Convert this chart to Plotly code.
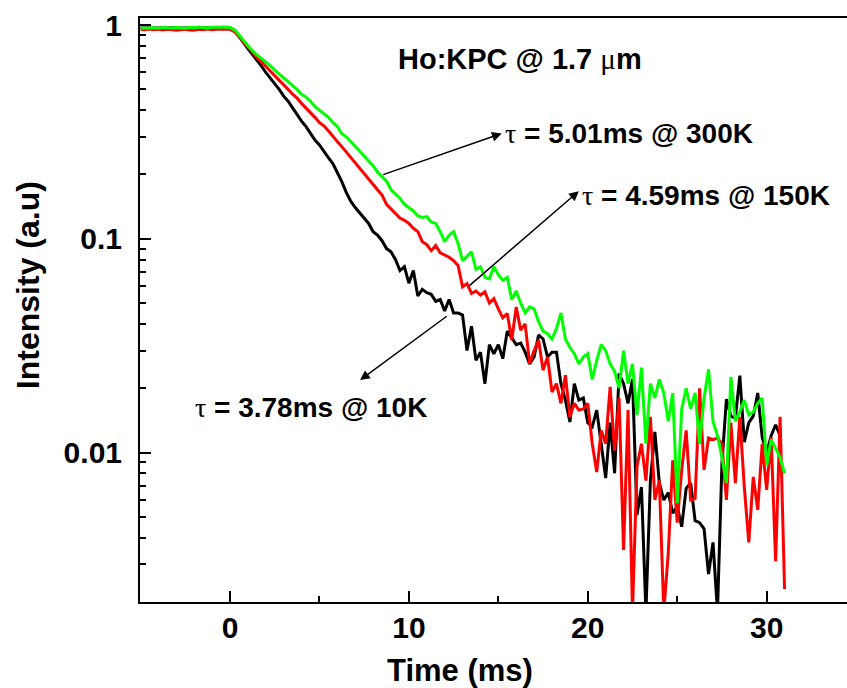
import plotly.graph_objects as go

# ---------------- data ----------------
TIME_MS = [
    -5.0, -4.75, -4.5, -4.25, -4.0, -3.75, -3.5, -3.25, -3.0, -2.75,
    -2.5, -2.25, -2.0, -1.75, -1.5, -1.25, -1.0, -0.75, -0.5, -0.25,
    0.0, 0.25, 0.5, 0.75, 1.0, 1.25, 1.5, 1.75, 2.0, 2.25,
    2.5, 2.75, 3.0, 3.25, 3.5, 3.75, 4.0, 4.25, 4.5, 4.75,
    5.0, 5.25, 5.5, 5.75, 6.0, 6.25, 6.5, 6.75, 7.0, 7.25,
    7.5, 7.75, 8.0, 8.25, 8.5, 8.75, 9.0, 9.25, 9.5, 9.75,
    10.0, 10.25, 10.5, 10.75, 11.0, 11.25, 11.5, 11.75, 12.0, 12.25,
    12.5, 12.75, 13.0, 13.25, 13.5, 13.75, 14.0, 14.25, 14.5, 14.75,
    15.0, 15.25, 15.5, 15.75, 16.0, 16.25, 16.5, 16.75, 17.0, 17.25,
    17.5, 17.75, 18.0, 18.25, 18.5, 18.75, 19.0, 19.25, 19.5, 19.75,
    20.0, 20.25, 20.5, 20.75, 21.0, 21.25, 21.5, 21.75, 22.0, 22.25,
    22.5, 22.75, 23.0, 23.25, 23.5, 23.75, 24.0, 24.25, 24.5, 24.75,
    25.0, 25.25, 25.5, 25.75, 26.0, 26.25, 26.5, 26.75, 27.0, 27.25,
    27.5, 27.75, 28.0, 28.25, 28.5, 28.75, 29.0, 29.25, 29.5, 29.75,
    30.0, 30.25, 30.5, 30.75, 31.0,
]

I_10K = [
    0.97, 0.972, 0.968, 0.97, 0.97, 0.972, 0.968, 0.97, 0.972, 0.97,
    0.968, 0.972, 0.97, 0.975, 0.972, 0.97, 0.974, 0.975, 0.974, 0.976,
    0.975, 0.945, 0.89, 0.83, 0.775, 0.73, 0.69, 0.645, 0.60, 0.565,
    0.53, 0.50, 0.465, 0.44, 0.41, 0.38, 0.355, 0.335, 0.31, 0.29,
    0.275, 0.255, 0.24, 0.225, 0.205, 0.185, 0.165, 0.15, 0.14, 0.132,
    0.125, 0.118, 0.108, 0.104, 0.098, 0.09, 0.087, 0.08, 0.071, 0.074,
    0.062, 0.071, 0.054, 0.058, 0.056, 0.055, 0.051, 0.052, 0.046, 0.052,
    0.045, 0.045, 0.044, 0.030, 0.039, 0.027, 0.0295, 0.021, 0.032, 0.029,
    0.032, 0.0275, 0.037, 0.0345, 0.032, 0.0325, 0.0295, 0.026, 0.028, 0.0355,
    0.034, 0.028, 0.0295, 0.0295, 0.021, 0.0176, 0.0139, 0.021, 0.0176, 0.018,
    0.0138, 0.0132, 0.0158, 0.011, 0.0076, 0.0138, 0.008, 0.0234, 0.021, 0.017,
    0.022, 0.0051, 0.0069, 0.0018, 0.0074, 0.0125, 0.0072, 0.006, 0.0065, 0.0052,
    0.0056, 0.0045, 0.0068, 0.0072, 0.0048, 0.0047, 0.0044, 0.0027, 0.0038, 0.0018,
    0.0089, 0.0178, 0.0148, 0.0145, 0.0229, 0.0112, 0.0138, 0.0148, 0.019, 0.0118,
    0.01, 0.012, 0.0135, 0.012, None,
]

I_150K = [
    0.955, 0.95, 0.958, 0.952, 0.955, 0.948, 0.955, 0.952, 0.945, 0.95,
    0.955, 0.948, 0.945, 0.955, 0.952, 0.958, 0.95, 0.955, 0.958, 0.955,
    0.955, 0.93, 0.885, 0.835, 0.79, 0.745, 0.705, 0.675, 0.645, 0.61,
    0.58, 0.55, 0.525, 0.50, 0.475, 0.455, 0.43, 0.41, 0.39, 0.37,
    0.35, 0.338, 0.32, 0.30, 0.285, 0.27, 0.255, 0.24, 0.228, 0.215,
    0.203, 0.19, 0.18, 0.17, 0.16, 0.145, 0.138, 0.13, 0.125, 0.122,
    0.118, 0.112, 0.108, 0.097, 0.094, 0.088, 0.093, 0.086, 0.084, 0.082,
    0.079, 0.075, 0.0596, 0.0617, 0.0555, 0.057, 0.0546, 0.0565, 0.05, 0.0525,
    0.047, 0.0427, 0.0447, 0.0336, 0.048, 0.0374, 0.040, 0.026, 0.030, 0.0336,
    0.0243, 0.028, 0.0192, 0.021, 0.017, 0.023, 0.0147, 0.017, 0.0158, 0.016,
    0.017, 0.011, 0.0081, 0.0127, 0.011, 0.0203, 0.0102, 0.018, 0.0035, 0.0158,
    0.0018, 0.0086, 0.011, 0.0074, 0.0147, 0.006, 0.0074, 0.0018, 0.0034, 0.0092,
    0.0047, 0.0083, 0.0127, 0.006, 0.0061, 0.02, 0.0083, 0.0117, 0.0115, 0.0117,
    0.011, 0.006, 0.0138, 0.0072, 0.0147, 0.0069, 0.0038, 0.0077, 0.0054, 0.011,
    0.0067, 0.0118, 0.0031, 0.0147, 0.0023,
]

I_300K = [
    0.965, 0.97, 0.968, 0.972, 0.966, 0.975, 0.97, 0.968, 0.974, 0.97,
    0.966, 0.975, 0.972, 0.978, 0.974, 0.97, 0.976, 0.978, 0.975, 0.978,
    0.975, 0.95, 0.9, 0.845, 0.80, 0.76, 0.725, 0.70, 0.675, 0.645,
    0.615, 0.59, 0.565, 0.545, 0.52, 0.50, 0.475, 0.46, 0.44, 0.415,
    0.40, 0.385, 0.37, 0.35, 0.335, 0.31, 0.30, 0.285, 0.27, 0.258,
    0.245, 0.232, 0.22, 0.205, 0.195, 0.186, 0.17, 0.162, 0.155, 0.145,
    0.14, 0.135, 0.128, 0.126, 0.127, 0.12, 0.118, 0.108, 0.097, 0.104,
    0.108, 0.095, 0.079, 0.083, 0.087, 0.072, 0.074, 0.066, 0.065, 0.074,
    0.068, 0.064, 0.066, 0.052, 0.057, 0.05, 0.045, 0.048, 0.047, 0.041,
    0.037, 0.036, 0.034, 0.038, 0.045, 0.034, 0.031, 0.029, 0.026, 0.028,
    0.029, 0.022, 0.027, 0.032, 0.03, 0.026, 0.024, 0.020, 0.030, 0.021,
    0.026, 0.015, 0.025, 0.011, 0.021, 0.018, 0.022, 0.019, 0.014, 0.019,
    0.0058, 0.016, 0.020, 0.016, 0.019, 0.011, 0.018, 0.0245, 0.014, 0.012,
    0.0095, 0.0072, 0.0226, 0.014, 0.0155, 0.0176, 0.015, 0.0155, 0.017, 0.018,
    0.0087, 0.0115, 0.0105, 0.0095, 0.008,
]

X_TICKS = [0, 10, 20, 30]
X_MINOR = [5, 15, 25]
Y_TICKS = [0.01, 0.1, 1]
Y_TICK_TEXT = ["0.01", "0.1", "1"]
Y_MINOR = [0.002, 0.003, 0.004, 0.005, 0.006, 0.007, 0.008, 0.009,
           0.02, 0.03, 0.04, 0.05, 0.06, 0.07, 0.08, 0.09,
           0.2, 0.3, 0.4, 0.5, 0.6, 0.7, 0.8, 0.9]

SERIF = "font-family:'Liberation Serif';font-weight:normal"
TITLE = "Ho:KPC @ 1.7 <span style=\"" + SERIF + "\">μ</span>m"
TAU = "<span style=\"" + SERIF + "\">τ</span>"
LABEL_300K = TAU + " = 5.01ms @ 300K"
LABEL_150K = TAU + " = 4.59ms @ 150K"
LABEL_10K = TAU + " = 3.78ms @ 10K"

FONT = "Liberation Sans, Arial, sans-serif"

# ---------------- figure ----------------
fig = go.Figure()
for vals, col in [(I_10K, "#000000"), (I_150K, "#ff0000"), (I_300K, "#00ff00")]:
    fig.add_trace(go.Scatter(x=TIME_MS, y=vals, mode="lines",
                             line=dict(color=col, width=3),
                             connectgaps=False, showlegend=False,
                             hoverinfo="skip"))

W, H = 847, 688
# plot box in window pixels: left 140, top 18, bottom 601.7, right 847
L, T, R = 140, 18, 0
B = H - 601.7
pw, ph = W - L - R, H - T - B


def px(xw):
    return (xw - L) / pw


def py(yw):
    return (H - B - yw) / ph


fig.update_layout(
    width=W, height=H,
    margin=dict(l=L, r=R, t=T, b=B),
    plot_bgcolor="white", paper_bgcolor="white",
    font=dict(family=FONT, color="black"),
    hovermode=False,
    xaxis=dict(range=[-5.03, 34.49], showgrid=False, zeroline=False,
               showline=True, linecolor="black", linewidth=2, mirror=True,
               ticks="inside", ticklen=11, tickwidth=2, tickcolor="black",
               tickvals=X_TICKS, ticktext=[str(v) for v in X_TICKS],
               tickfont=dict(size=30, family=FONT, weight="bold"),
               ticklabelstandoff=-2,
               minor=dict(ticks="inside", ticklen=6, tickwidth=2,
                          tickcolor="black", tickvals=X_MINOR)),
    yaxis=dict(type="log", range=[-2.699, 0.033], showgrid=False,
               zeroline=False, showline=True, linecolor="black",
               linewidth=2, mirror=False,
               ticks="inside", ticklen=11, tickwidth=2, tickcolor="black",
               tickvals=Y_TICKS, ticktext=Y_TICK_TEXT,
               tickfont=dict(size=30, family=FONT, weight="bold"),
               ticklabelstandoff=10,
               minor=dict(ticks="inside", ticklen=6, tickwidth=2,
                          tickcolor="black", tickvals=Y_MINOR)),
)

ann = []
# axis titles
ann.append(dict(text="<b>Time (ms)</b>", xref="paper", yref="paper",
                x=px(460), y=py(670), xanchor="center", yanchor="middle",
                showarrow=False, font=dict(size=31, family=FONT)))
ann.append(dict(text="<b>Intensity (a.u)</b>", xref="paper", yref="paper",
                x=px(28), y=py(285), xanchor="center", yanchor="middle",
                textangle=-90, showarrow=False, font=dict(size=32, family=FONT)))
# title and labels
ann.append(dict(text="<b>" + TITLE + "</b>", xref="paper", yref="paper",
                x=px(396), y=py(59), xanchor="left", yanchor="middle",
                showarrow=False, font=dict(size=29, family=FONT)))
for txt, xw, yw in [(LABEL_300K, 503, 133), (LABEL_150K, 580, 195),
                    (LABEL_10K, 193, 407)]:
    ann.append(dict(text="<b>" + txt + "</b>", xref="paper", yref="paper",
                    x=px(xw), y=py(yw), xanchor="left", yanchor="middle",
                    showarrow=False, font=dict(size=28, family=FONT)))
# arrows (head x,y ; tail ax,ay) in data coords (log10 for y)
for hx, hy, tx, ty in [(15.19, -0.507, 8.48, -0.702),
                       (19.5, -0.777, 13.3, -1.225),
                       (7.27, -1.661, 12.2, -1.357)]:
    ann.append(dict(text="", x=hx, y=hy, xref="x", yref="y",
                    ax=tx, ay=ty, axref="x", ayref="y",
                    showarrow=True, arrowhead=2, arrowsize=1.3,
                    arrowwidth=1.5, arrowcolor="black", standoff=0,
                    startstandoff=0))
fig.update_layout(annotations=ann)

# remove the default 8px page margin so the figure fills the window exactly
fig.write_html("out.html",
               config={"displayModeBar": False, "staticPlot": True},
               post_script="document.body.style.margin='0';"
                           "document.body.style.overflow='hidden';")
